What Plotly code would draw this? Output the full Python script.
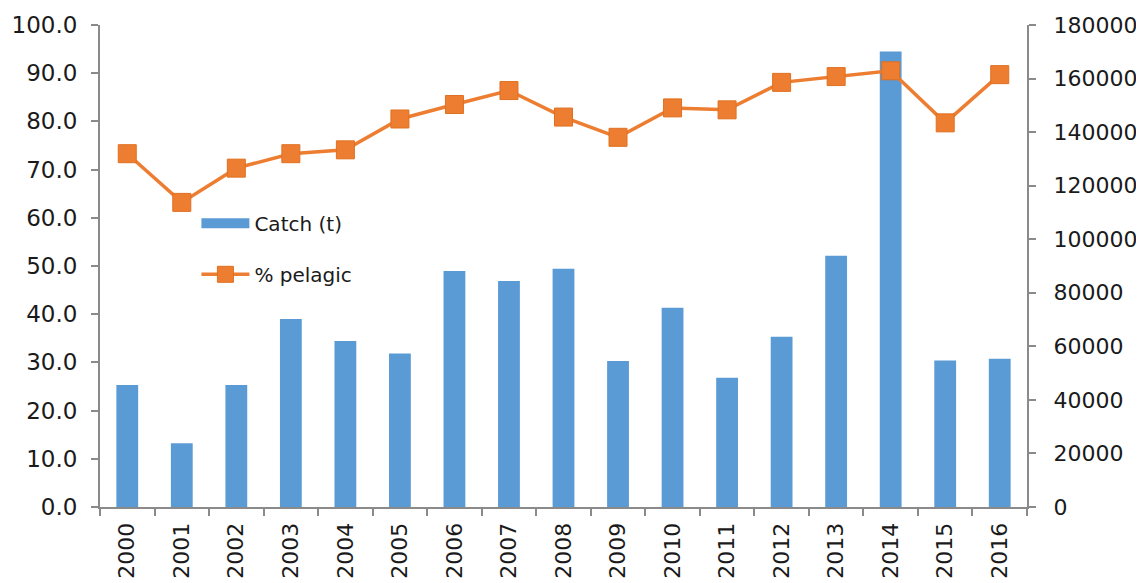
import plotly.graph_objects as go

years = ["2000", "2001", "2002", "2003", "2004", "2005", "2006", "2007", "2008",
         "2009", "2010", "2011", "2012", "2013", "2014", "2015", "2016"]
catch_t = [45600, 23800, 45600, 70200, 62000, 57300, 88100, 84400, 89000,
           54500, 74400, 48300, 63600, 93800, 170100, 54700, 55400]
pct_pelagic = [73.3, 63.2, 70.3, 73.3, 74.1, 80.5, 83.5, 86.4, 80.9,
               76.7, 82.8, 82.4, 88.1, 89.3, 90.5, 79.7, 89.7]

left_ticks = [0, 10, 20, 30, 40, 50, 60, 70, 80, 90, 100]
right_ticks = [0, 20000, 40000, 60000, 80000, 100000, 120000, 140000, 160000, 180000]

BLUE = "#5B9BD5"
ORANGE = "#ED7D31"
AXIS = "#8a8a8a"
FONT = "DejaVu Sans"

fig = go.Figure()
fig.add_trace(go.Bar(
    x=years, y=catch_t, name="Catch (t)", marker=dict(color=BLUE, line=dict(width=0)),
    yaxis="y", showlegend=False,
))
# legend proxy giving the wide rectangular swatch of the bar series
fig.add_trace(go.Scatter(
    x=[None], y=[None], name="Catch (t)", mode="lines",
    line=dict(color=BLUE, width=14), yaxis="y", legendgroup="a",
))
fig.add_trace(go.Scatter(
    x=years, y=pct_pelagic, name="% pelagic", mode="lines+markers",
    line=dict(color=ORANGE, width=3.5),
    marker=dict(symbol="square", size=18, color=ORANGE, line=dict(color="#E07020", width=1)),
    yaxis="y2", legendgroup="b",
))

fig.update_layout(
    width=1136, height=575,
    margin=dict(l=92, r=117, t=17, b=76, autoexpand=False),
    paper_bgcolor="white", plot_bgcolor="white",
    font=dict(family=FONT, size=22, color="#1a1a1a"),
    bargap=0.6,
    showlegend=True,
    legend=dict(x=0.104, y=0.629, xanchor="left", yanchor="top",
                bgcolor="rgba(0,0,0,0)", font=dict(size=20, color="#1a1a1a"),
                tracegroupgap=22, traceorder="grouped", itemwidth=48),
    xaxis=dict(
        type="category", range=[-0.5, 16.5], showgrid=False, showline=True,
        linecolor=AXIS, linewidth=2, automargin=False,
        ticks="outside", tickson="boundaries", ticklen=7, tickcolor=AXIS, tickwidth=2,
        tickangle=-90, tickfont=dict(size=22), zeroline=False, ticklabelstandoff=5,
    ),
    yaxis=dict(
        side="right", range=[0, 180000], tickvals=right_ticks,
        ticktext=[str(v) for v in right_ticks], automargin=False,
        showgrid=False, showline=True, linecolor=AXIS, linewidth=2,
        ticks="outside", ticklen=7, tickcolor=AXIS, tickwidth=2,
        tickfont=dict(size=22), zeroline=False, ticklabelstandoff=13,
    ),
    yaxis2=dict(
        side="left", overlaying="y", range=[0, 100], tickvals=left_ticks,
        ticktext=[f"{v:.1f}" for v in left_ticks], automargin=False,
        showgrid=False, showline=True, linecolor=AXIS, linewidth=2,
        ticks="outside", ticklen=7, tickcolor=AXIS, tickwidth=2,
        tickfont=dict(size=23), zeroline=False, ticklabelstandoff=9,
    ),
)

fig.write_html("out.html")
